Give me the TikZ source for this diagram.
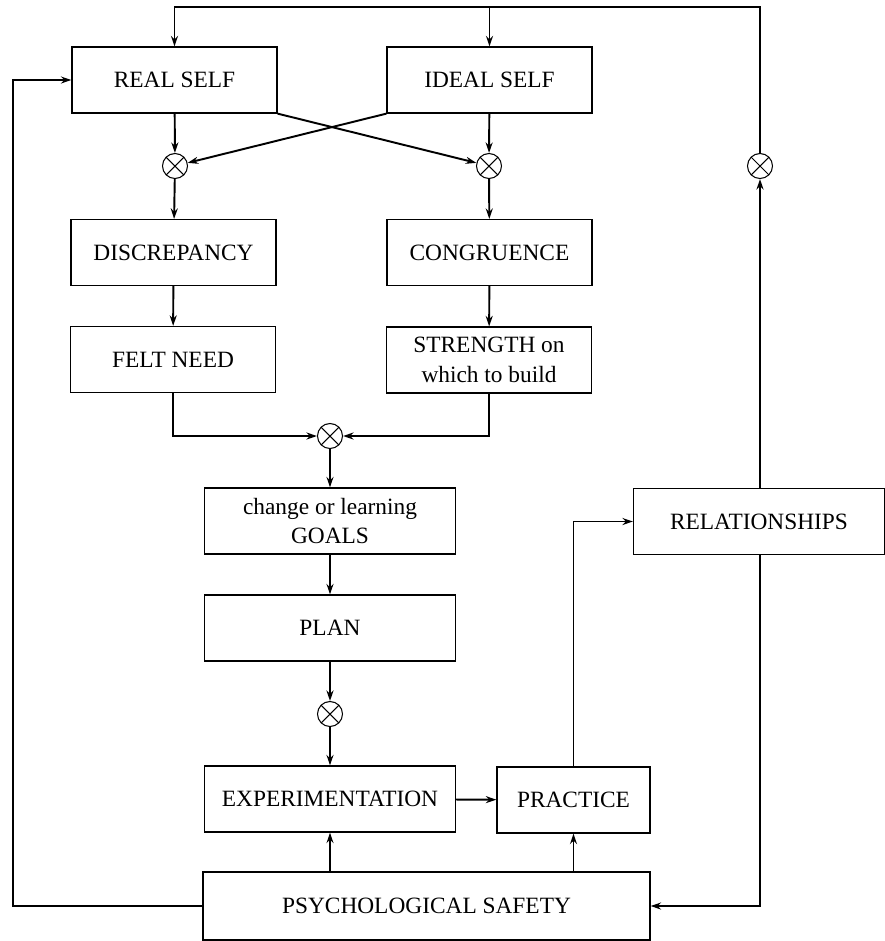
\documentclass[tikz,border=0pt]{standalone}
\usepackage{fontspec}
\setmainfont{Liberation Serif}
\usetikzlibrary{arrows.meta}

\begin{document}
\begin{tikzpicture}[x=0.02cm,y=-0.02cm,
		>={Stealth[length=6pt,width=4pt]},
		stage/.style={draw,line width=0.7pt,minimum width=4.1cm,minimum height=1.32cm,inner sep=0pt,align=center,font=\fontsize{13.3}{17}\selectfont},
		mult/.style={draw,circle,line width=0.6pt,minimum size=0.5cm,inner sep=0pt,
			path picture={\draw[line width=0.6pt] (path picture bounding box.north west) -- (path picture bounding box.south east)
				(path picture bounding box.north east) -- (path picture bounding box.south west);}},
		conn/.style={line width=1.1pt}]
		\useasboundingbox (0,0) rectangle (885,941);
		
		\node[stage] (real) at (174.5,80) {REAL SELF};
		\node[stage] (ideal) at (489.5,80) {IDEAL SELF};
		\node[mult] (m1) at (175,166) {};
		\node[mult] (m2) at (489,166) {};
		\node[mult] (m3) at (760,166) {};
		\node[stage] (disc) at (173.5,252.5) {DISCREPANCY};
		\node[stage] (cong) at (489.5,252.5) {CONGRUENCE};
		\node[stage] (need) at (173,359.5) {FELT NEED};
		\node[stage] (str) at (489,360) {STRENGTH on\\which to build};
		\node[mult] (m4) at (330,436) {};
		\node[stage,minimum width=5.02cm] (goals) at (330,521) {change or learning\\GOALS};
		\node[stage,minimum width=5.02cm] (plan) at (330,628) {PLAN};
		\node[mult] (m5) at (330,714) {};
		\node[stage,minimum width=5.02cm] (expr) at (330,799) {EXPERIMENTATION};
		\node[stage,minimum width=3.06cm] (prac) at (573.5,800) {PRACTICE};
		\node[stage,minimum width=5.02cm] (rel) at (759,521.5) {RELATIONSHIPS};
		\node[stage,minimum width=8.94cm,minimum height=1.36cm] (safe) at (426.5,906) {PSYCHOLOGICAL SAFETY};
		
		\coordinate (top) at (760,7);
		\coordinate (lft) at (13,906);
		
		\draw[conn,->] (real) -- (m1);
		\draw[conn,->] (ideal) -- (m2);
		\draw[conn,->] (real.south east) -- (m2);
		\draw[conn,->] (ideal.south west) -- (m1);
		\draw[conn,->] (m1) -- (disc);
		\draw[conn,->] (m2) -- (cong);
		\draw[conn,->] (disc) -- (need);
		\draw[conn,->] (cong) -- (str);
		\draw[conn,->] (need.south) |- (m4);
		\draw[conn,->] (str.south) |- (m4);
		\draw[conn,->] (m4) -- (goals);
		\draw[conn,->] (goals) -- (plan);
		\draw[conn,->] (plan) -- (m5);
		\draw[conn,->] (m5) -- (expr);
		\draw[conn,->] (expr) -- (prac);
		\draw[conn,->] (expr.south |- safe.north) -- (expr.south);
		\draw[conn,->] (prac.south |- safe.north) -- (prac.south);
		\draw[conn,->] (prac.north) |- (rel.west);
		\draw[conn,->] (m3.south |- rel.north) -- (m3);
		\draw[conn,->] (m3) -- (top) -| (real.north);
		\draw[conn,->] (ideal.north |- top) -- (ideal.north);
		\draw[conn,->] (m3.south |- rel.south) |- (safe.east);
		\draw[conn,->] (safe.west) -- (lft) |- (real.west);
	\end{tikzpicture}
\end{document}
